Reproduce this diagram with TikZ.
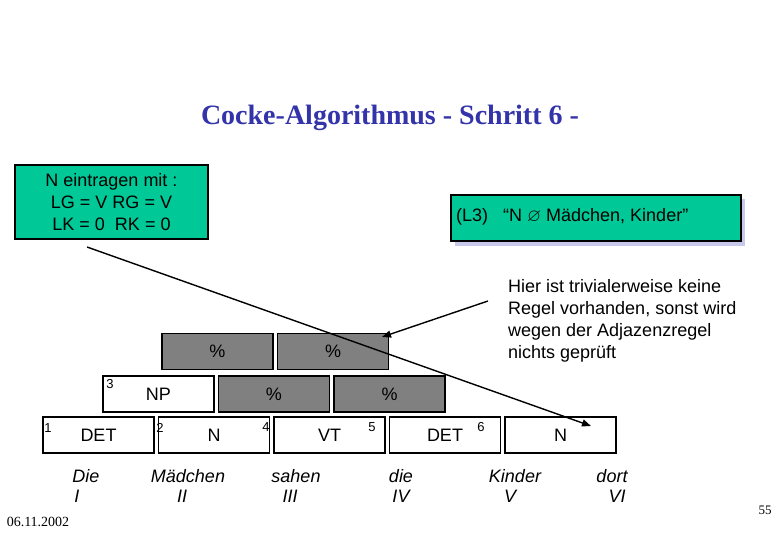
\documentclass[tikz,border=0pt]{standalone}
\usepackage{amssymb}
\usepackage{fontspec}
\setmainfont{Liberation Sans}
\newfontfamily\timesf{Liberation Serif}
\usetikzlibrary{arrows.meta}
\definecolor{boxgreen}{RGB}{0,200,150}
\definecolor{shadowlav}{RGB}{200,200,235}
\definecolor{titleblue}{RGB}{51,51,170}
\definecolor{cellgray}{RGB}{128,128,128}
\tikzset{
  cell/.style={draw=black, line width=1.8pt, minimum width=111pt, minimum height=36pt, inner sep=0pt, font=\fontsize{18}{20}\selectfont},
  whitecell/.style={cell, fill=white},
  graycell/.style={cell, fill=cellgray},
  idx/.style={inner sep=0pt, font=\fontsize{13}{14}\selectfont},
  word/.style={inner sep=0pt, font=\fontsize{18}{20}\selectfont\itshape},
  greenbox/.style={draw=black, line width=1.8pt, fill=boxgreen, inner sep=0pt},
  conn/.style={line width=1.4pt, -{Triangle[length=9pt,width=7pt]}},
  txt/.style={inner sep=0pt, font=\fontsize{18}{22}\selectfont}
}
\begin{document}
\begin{tikzpicture}[x=1pt,y=-1pt]
\useasboundingbox (0,0) rectangle (780,540);
% title
\node[inner sep=0pt, text=titleblue, font=\timesf\bfseries\fontsize{28}{30}\selectfont] (title) at (390,118) {Cocke-Algorithmus - Schritt 6 -};
% green box 1
\node[greenbox, minimum width=193pt, minimum height=74pt, align=center, font=\fontsize{18}{21.7}\selectfont] (box1) at (111.5,202) {N eintragen mit :\\LG = V RG = V\\LK = 0\ \ RK = 0};
% green box 2 with shadow
\fill[shadowlav] (455,199) rectangle (745,246);
\node[greenbox, minimum width=290pt, minimum height=46pt, anchor=north west] (box2) at (450,194) {};
\node[txt, anchor=west] (box2t) at (456,217) {(L3)\ \ \ “N $\varnothing$ Mädchen, Kinder”};
% annotation
\node[txt, anchor=north west, align=left] (note) at (508,279) {Hier ist trivialerweise keine\\Regel vorhanden, sonst wird\\wegen der Adjazenzregel\\nichts geprüft};
% row 3
\node[graycell] (r3a) at (217.5,351.5) {\%};
\node[graycell] (r3b) at (333,351.5) {\%};
% row 2
\node[whitecell] (r2a) at (158.5,394) {NP};
\node[graycell] (r2b) at (274,394) {\%};
\node[graycell] (r2c) at (389.5,394) {\%};
% row 1
\node[whitecell] (r1a) at (98.5,435) {DET};
\node[whitecell] (r1b) at (214,435) {N};
\node[whitecell] (r1c) at (329.5,435) {VT};
\node[whitecell] (r1d) at (445,435) {DET};
\node[whitecell] (r1e) at (560.5,435) {N};
% indices
\node[idx] (i1) at (48,428) {1};
\node[idx] (i2) at (160,428) {2};
\node[idx] (i3) at (110,384) {3};
\node[idx] (i4) at (266,427) {4};
\node[idx] (i5) at (372,427) {5};
\node[idx] (i6) at (481,427) {6};
% words
\node[word] (w1) at (86,476) {Die};
\node[word] (w2) at (188,476) {Mädchen};
\node[word] (w3) at (296,476) {sahen};
\node[word] (w4) at (401,476) {die};
\node[word] (w5) at (515,476) {Kinder};
\node[word] (w6) at (612,476) {dort};
\node[word] (n1) at (77,496) {I};
\node[word] (n2) at (182,496) {II};
\node[word] (n3) at (290,496) {III};
\node[word] (n4) at (401,496) {IV};
\node[word] (n5) at (510,496) {V};
\node[word] (n6) at (617,496) {VI};
% footer
\node[inner sep=0pt, font=\timesf\fontsize{14}{15}\selectfont] (date) at (38,522) {06.11.2002};
\node[inner sep=0pt, font=\timesf\fontsize{13}{14}\selectfont] (page) at (765,510) {55};
% connectors
\coordinate (c1) at (87,247);
\coordinate (c1e) at (591,426);
\draw[conn] (c1) -- (c1e);
\coordinate (c2) at (488,301);
\coordinate (c2e) at (382,337);
\draw[conn] (c2) -- (c2e);
\end{tikzpicture}
\end{document}
